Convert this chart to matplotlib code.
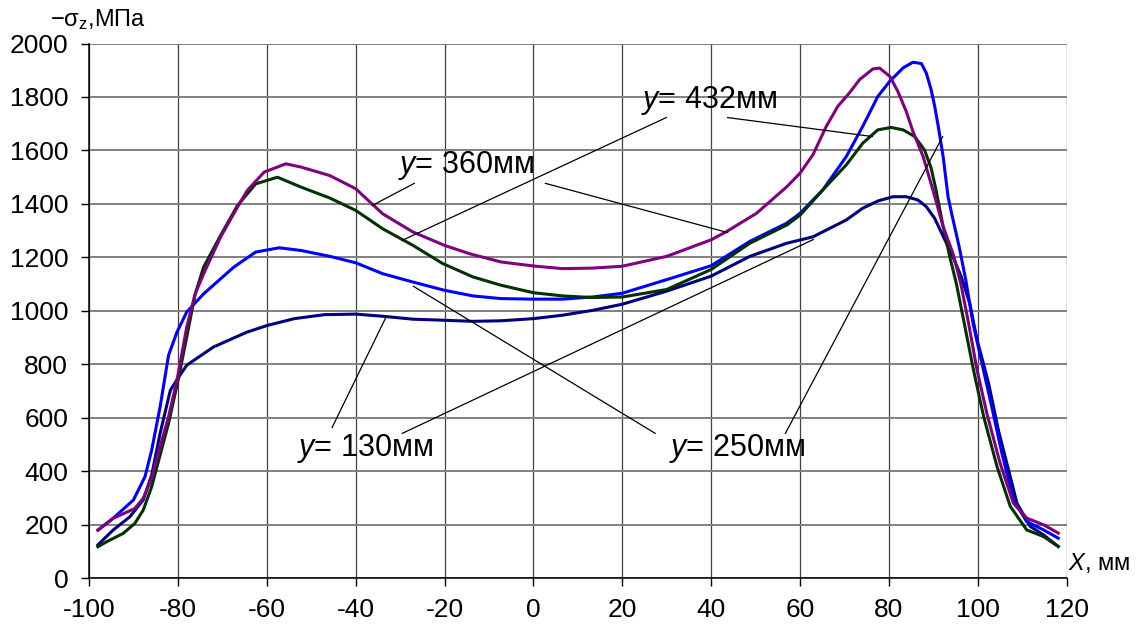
import matplotlib
matplotlib.use("Agg")
import matplotlib.pyplot as plt

plt.rcParams['font.family'] = ['Liberation Sans', 'DejaVu Sans']
plt.rcParams['mathtext.fontset'] = 'custom'
plt.rcParams['mathtext.rm'] = 'Liberation Sans'
plt.rcParams['mathtext.it'] = 'Liberation Sans:italic'
plt.rcParams['axes.unicode_minus'] = False

# ---- data ----
x_360 = [-98, -94.6, -89.7, -87.8, -85.9, -84, -82.1, -80.2, -78, -76.1, -74.2, -70.4, -66.6, -64.4, -60.6,
         -55.7, -52.3, -45.8, -40, -33.9, -27.1, -20, -14.4, -7.3, 0, 6.6, 13.3, 20, 30, 40, 43.5, 50.2, 57,
         60, 62.9, 65.9, 68.5, 71.1, 73.4, 76.4, 77.9, 80.2, 82.0, 83.9, 85.4, 87.7, 89.9, 92.2, 94.4, 96.2,
         97.9, 99.8, 102, 105, 108, 111, 114.8, 118.1]
v_360 = [180, 224, 261, 299, 374, 492, 604, 741, 940, 1064, 1139, 1276, 1388, 1450, 1519,
         1550, 1538, 1506, 1457, 1363, 1295, 1245, 1214, 1183, 1168, 1158, 1160, 1167, 1204, 1266, 1297, 1365, 1464,
         1515, 1584, 1690, 1765, 1815, 1865, 1905, 1908, 1877, 1821, 1746, 1671, 1577, 1452, 1315, 1215, 1100,
         956, 781, 619, 431, 281, 225, 200, 169]

x_432 = [-98, -96, -92.3, -89.7, -87.8, -85.9, -84, -82.1, -79.8, -78, -76.1, -74.2, -70.4, -66.6, -62.5,
         -57.6, -52.3, -45.8, -40, -33.9, -27.1, -20.4, -13.6, -7.3, 0, 6.6, 13.3, 20, 30, 40, 48.7, 57, 60,
         65.1, 70.4, 74.1, 77.5, 80.5, 83.2, 85.8, 88, 89.5, 90.6, 92.2, 93.7, 95.2, 96.8, 99, 101.3, 104.3,
         107.3, 111, 114.8, 118.1]
v_432 = [118, 137, 168, 205, 255, 342, 461, 579, 753, 903, 1064, 1164, 1282, 1394, 1475,
         1500, 1463, 1422, 1376, 1307, 1245, 1177, 1127, 1096, 1068, 1056, 1050, 1052, 1080, 1155, 1253, 1321, 1358,
         1452, 1546, 1627, 1677, 1686, 1677, 1652, 1602, 1534, 1452, 1315, 1202, 1100, 966, 781, 606, 419,
         269, 181, 156, 119]

x_250 = [-98, -94.6, -90, -87.4, -85.9, -84, -82.1, -80.2, -78, -74.2, -67.4, -62.5, -57.2, -52.3, -45.8,
         -40, -33.9, -27.1, -20, -13.6, -7.3, 0, 6.6, 13.3, 20, 30, 40, 48.7, 57, 60, 65.1, 70.4, 74.1, 77.5,
         80.2, 83.2, 85.4, 87.3, 88.4, 89.5, 90.3, 91.1, 92.2, 93.3, 94.3, 95.8, 97.3, 98.9, 100.9, 103.1,
         105.4, 108, 111, 114.8, 118.1]
v_250 = [180, 224, 293, 380, 479, 641, 834, 921, 996, 1064, 1164, 1220, 1236, 1226, 1204,
         1180, 1139, 1108, 1077, 1056, 1046, 1044, 1044, 1052, 1066, 1117, 1169, 1260, 1328, 1365, 1452, 1577, 1690, 1802,
         1859, 1909, 1930, 1925, 1890, 1827, 1765, 1690, 1577, 1427, 1350, 1240, 1115, 956, 806, 644,
         469, 294, 212, 181, 150]

x_130 = [-98, -94.6, -90.8, -87.8, -85.9, -84, -81.7, -79.8, -78, -72, -64.4, -59.8, -53.8, -47, -43.2,
         -40, -33.9, -27.1, -20, -13.6, -7.3, 0, 6.6, 13.3, 20, 30, 40, 48.7, 57, 62.9, 70.4, 74.1, 77.5,
         80.9, 83.9, 86.5, 88.4, 90.3, 92.6, 94.4, 96.3, 98.2, 99.8, 102.4, 104.6, 106.9, 108.8, 111.8,
         114.8, 118.1]
v_130 = [125, 180, 230, 293, 386, 542, 703, 753, 797, 865, 921, 946, 971, 986, 987,
         988, 980, 969, 965, 961, 963, 971, 984, 1002, 1025, 1074, 1130, 1204, 1253, 1277, 1340, 1384, 1411,
         1427, 1427, 1415, 1390, 1346, 1265, 1202, 1127, 1027, 894, 731, 556, 406, 281, 194,
         162, 119]

series = [
    ("130", x_130, v_130, "#000080"),
    ("250", x_250, v_250, "#0000FF"),
    ("432", x_432, v_432, "#003300"),
    ("360", x_360, v_360, "#800080"),
]

x_ticks = list(range(-100, 121, 20))
y_ticks = list(range(0, 2001, 200))

# annotation labels: (text, label position, leader lines)
annotations = [
    (r"$y$= 432мм", (24.1, 1787), [((29.9, 1723), (-29.5, 1264)), ((43.7, 1723), (76.3, 1652))]),
    (r"$y$= 360мм", (-30.4, 1544), [((-26.8, 1477), (-36.3, 1394)), ((2.7, 1477), (43.7, 1293))]),
    (r"$y$= 130мм", (-53.1, 486), [((-45.3, 564), (-33.3, 972)), ((-29.5, 542), (63.0, 1267))]),
    (r"$y$= 250мм", (30.4, 486), [((-27.0, 1092), (27.4, 542)), ((56.7, 542), (92.1, 1652))]),
]

fig = plt.figure(figsize=(11.36, 6.32), dpi=100)
ax = fig.add_axes([89 / 1136, 1 - 578.3 / 632, (1066.7 - 89) / 1136, (578.3 - 43.5) / 632])

for name, xs, vs, col in series:
    ax.plot(xs, vs, color=col, lw=2.2, solid_joinstyle='round', zorder=3)

for text, (tx, ty), lines in annotations:
    ax.text(tx, ty, text, fontsize=22, ha='left', va='center', zorder=5)
    for (x0, y0), (x1, y1) in lines:
        ax.plot([x0, x1], [y0, y1], color='black', lw=0.9, zorder=4)

ax.set_xlim(-100, 120)
ax.set_ylim(0, 2000)
ax.set_xticks(x_ticks)
ax.set_yticks(y_ticks)
ax.set_xticklabels([str(v) for v in x_ticks])
ax.set_yticklabels([str(v) for v in y_ticks])
ax.tick_params(axis='both', direction='out', length=6, width=1, labelsize=19, color='black')
ax.tick_params(axis='y', pad=9)
ax.tick_params(axis='x', pad=8)

ax.xaxis.grid(True, color='#404040', lw=0.9)
ax.yaxis.grid(True, color='#808080', lw=1.4)
ax.set_axisbelow(True)
for s in ['top', 'right']:
    ax.spines[s].set_visible(False)
ax.spines['left'].set_color('black')
ax.spines['bottom'].set_color('black')
ax.spines['left'].set_linewidth(1.1)
ax.spines['bottom'].set_linewidth(1.1)

ax.text(120.2, 56, r"$X$, мм", fontsize=17, ha='left', va='center', clip_on=False)
fig.text(50 / 1136, 1 - 20 / 632, r"$\mathrm{-\sigma_z}$,МПа", fontsize=17, ha='left', va='center')

fig.savefig("out.png", dpi=100)
